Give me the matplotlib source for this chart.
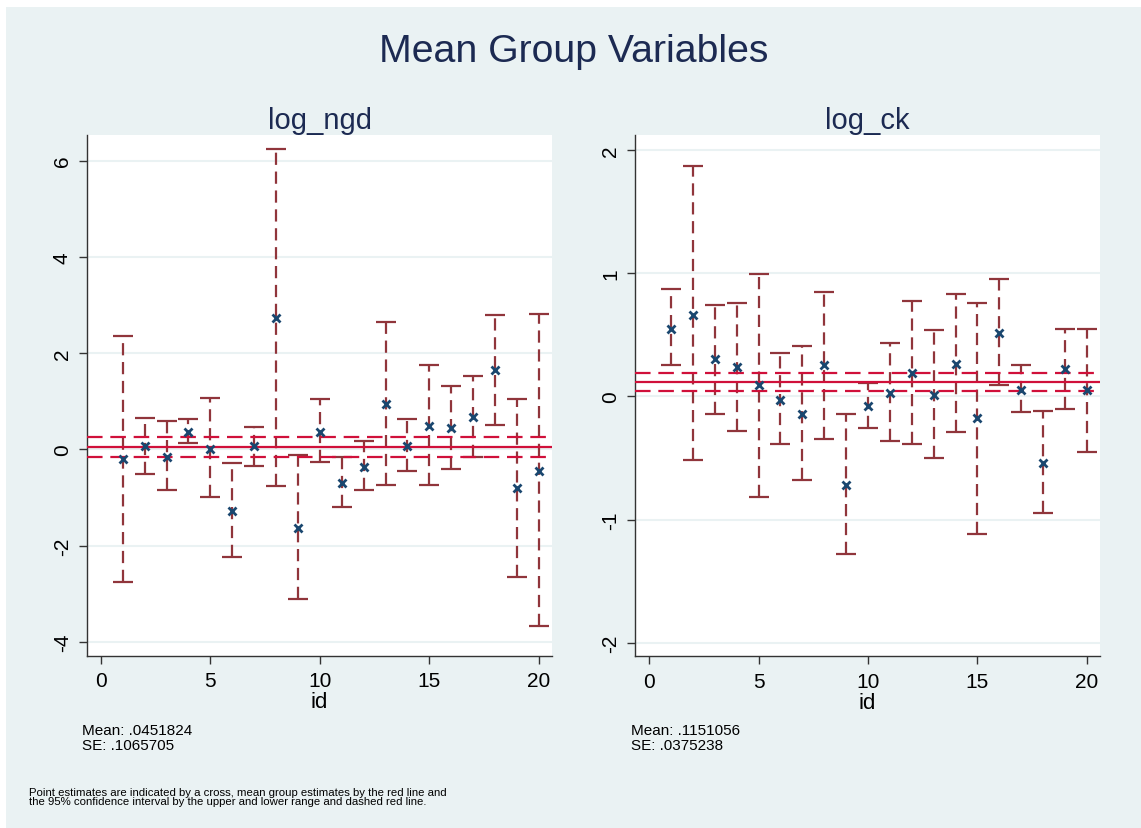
import numpy as np
import matplotlib.pyplot as plt

# group ids
ids = np.arange(1, 21)

# log_ngd: point estimates and 95% CI bounds per group
ngd_est = [-0.21, 0.06, -0.15, 0.35, 0.01, -1.29, 0.06, 2.73, -1.64, 0.36,
           -0.71, -0.36, 0.95, 0.07, 0.49, 0.45, 0.68, 1.65, -0.81, -0.46]
ngd_hi = [2.35, 0.65, 0.59, 0.62, 1.07, -0.29, 0.46, 6.24, -0.12, 1.05,
          -0.16, 0.17, 2.64, 0.63, 1.75, 1.32, 1.52, 2.80, 1.04, 2.82]
ngd_lo = [-2.75, -0.51, -0.85, 0.13, -1.00, -2.23, -0.34, -0.76, -3.12, -0.27,
          -1.20, -0.85, -0.74, -0.45, -0.74, -0.40, -0.15, 0.50, -2.65, -3.68]
ngd_mean = 0.0451824
ngd_se = 0.1065705

# log_ck: point estimates and 95% CI bounds per group
ck_est = [0.55, 0.66, 0.30, 0.24, 0.09, -0.03, -0.14, 0.25, -0.72, -0.08,
          0.03, 0.19, 0.01, 0.26, -0.18, 0.51, 0.05, -0.54, 0.22, 0.05]
ck_hi = [0.87, 1.87, 0.74, 0.76, 0.99, 0.35, 0.41, 0.85, -0.14, 0.11,
         0.43, 0.77, 0.54, 0.83, 0.76, 0.95, 0.25, -0.12, 0.55, 0.55]
ck_lo = [0.25, -0.52, -0.14, -0.28, -0.82, -0.39, -0.68, -0.35, -1.28, -0.26,
         -0.36, -0.39, -0.50, -0.29, -1.12, 0.09, -0.13, -0.95, -0.10, -0.45]
ck_mean = 0.1151056
ck_se = 0.0375238

BG = '#EAF2F3'
NAVY = '#1A476F'
CAP_RED = '#90353B'
MEAN_RED = '#D0103A'
TITLE_COL = '#1C2A52'

plt.rcParams['font.family'] = ['Liberation Sans', 'DejaVu Sans']
plt.rcParams['axes.unicode_minus'] = False

fig = plt.figure(figsize=(11.41, 8.29), dpi=100)
fig.patch.set_facecolor('white')
# light backdrop, leaving a thin white strip at the top and left edges
fig.add_artist(plt.Rectangle((6 / 1141, 0), 1, 1 - 8 / 829, transform=fig.transFigure,
                             facecolor=BG, edgecolor='none', zorder=-10))


def mg_panel(rect, title, est, lo, hi, mean, se, yticks, ylim):
    ax = fig.add_axes(rect)
    ax.set_facecolor('white')
    for side in ('top', 'right'):
        ax.spines[side].set_visible(False)
    for side in ('left', 'bottom'):
        ax.spines[side].set_color('#333333')
        ax.spines[side].set_linewidth(1.0)

    ax.set_yticks(yticks)
    ax.yaxis.grid(True, color=BG, linewidth=1.5, zorder=0)
    ax.set_axisbelow(True)

    est = np.asarray(est)
    lo = np.asarray(lo)
    hi = np.asarray(hi)
    _, caps, bars = ax.errorbar(ids, est, yerr=[est - lo, hi - est], fmt='none',
                                ecolor=CAP_RED, elinewidth=1.6, capsize=7,
                                capthick=1.6, zorder=3)
    bars[0].set_linestyle((0, (5.5, 3)))

    # mean group estimate and its 95% interval
    ci = 1.96 * se
    ax.axhline(mean, color=MEAN_RED, linewidth=1.6, zorder=4)
    ax.axhline(mean + ci, color=MEAN_RED, linewidth=1.6, linestyle=(0, (7, 3.5)), zorder=4)
    ax.axhline(mean - ci, color=MEAN_RED, linewidth=1.6, linestyle=(0, (7, 3.5)), zorder=4)

    ax.plot(ids, est, 'x', color=NAVY, markersize=6, markeredgewidth=2, zorder=5)

    ax.set_xlim(-0.63, 20.6)
    ax.set_ylim(*ylim)
    ax.set_xticks([0, 5, 10, 15, 20])
    ax.tick_params(axis='both', direction='out', length=6, width=1, color='#333333',
                   labelsize=15, pad=5)
    for lab in ax.get_yticklabels():
        lab.set_rotation(90)
        lab.set_va('center')
    ax.set_xlabel('id', fontsize=16, labelpad=1)
    ax.set_title(title, fontsize=21, color=TITLE_COL, pad=5)

    bbox = ax.get_position()
    fig.text(bbox.x0 - 0.004, 0.109, 'Mean: %s\nSE: %s' % (('%.7f' % mean)[1:], ('%.7f' % se)[1:]),
             fontsize=11, va='center', ha='left', linespacing=1.05)
    return ax


mg_panel([0.0763, 0.2078, 0.4075, 0.6281], 'log_ngd', ngd_est, ngd_lo, ngd_hi,
         ngd_mean, ngd_se, [-4, -2, 0, 2, 4, 6], (-4.29, 6.53))
mg_panel([0.5568, 0.2071, 0.4073, 0.6288], 'log_ck', ck_est, ck_lo, ck_hi,
         ck_mean, ck_se, [-2, -1, 0, 1, 2], (-2.11, 2.12))

fig.text(0.503, 0.937, 'Mean Group Variables', fontsize=28.3, color=TITLE_COL,
         ha='center', va='center')
fig.text(0.0255, 0.038,
         'Point estimates are indicated by a cross, mean group estimates by the red line and\n'
         'the 95% confidence interval by the upper and lower range and dashed red line.',
         fontsize=8.2, ha='left', va='center', linespacing=0.95)

fig.savefig('out.png', dpi=100, facecolor=fig.get_facecolor())
